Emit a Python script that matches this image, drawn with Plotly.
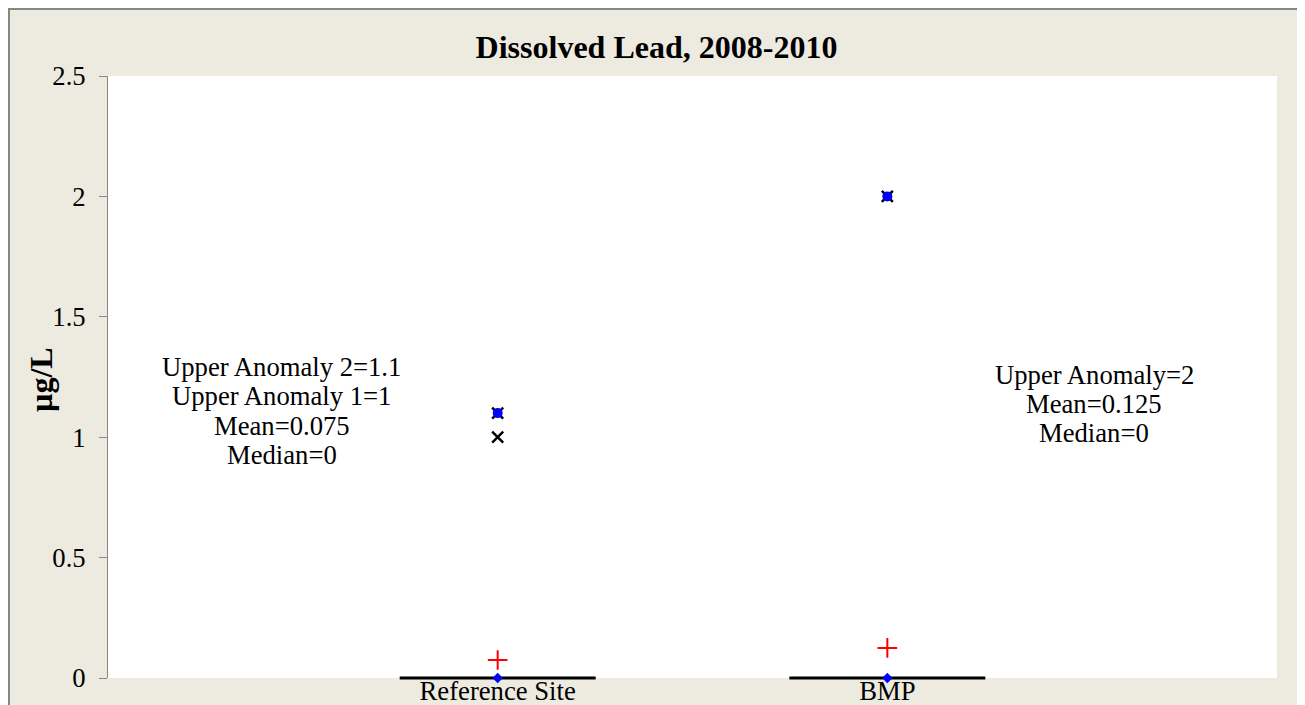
import plotly.graph_objects as go

# ---- data ----
categories = ["Reference Site", "BMP"]
medians = [0, 0]
means = [0.075, 0.125]
upper_anomaly_star = [1.1, 2]      # blue/black star markers
upper_anomaly_x = [1, None]        # black x markers
labels_ref = ["Upper Anomaly 2=1.1", "Upper Anomaly 1=1", "Mean=0.075", "Median=0"]
labels_bmp = ["Upper Anomaly=2", "Mean=0.125", "Median=0"]
y_ticks = [0, 0.5, 1, 1.5, 2, 2.5]
y_tick_text = ["0", "0.5", "1", "1.5", "2", "2.5"]

FONT = "Liberation Serif"
# page has an 8px body margin; figure sized so it fills the window
W, H = 1297, 697
ML, MR, MT, MB = 100, 28, 68, 27
BEIGE = "#EDEAE0"
GRAY = "#868686"
FS = 26.67

xs = list(range(len(categories)))
fig = go.Figure()

# median bars (horizontal line markers, not clipped at the axis)
fig.add_trace(go.Scatter(x=xs, y=medians, mode="markers", cliponaxis=False,
                         marker=dict(symbol="line-ew", size=140,
                                     line=dict(color="black", width=3)),
                         showlegend=False, hoverinfo="skip"))
# median markers
fig.add_trace(go.Scatter(x=xs, y=medians, mode="markers", cliponaxis=False,
                         marker=dict(symbol="diamond", size=8, color="blue"),
                         showlegend=False))
# mean markers
fig.add_trace(go.Scatter(x=xs, y=means, mode="markers", cliponaxis=False,
                         marker=dict(symbol="cross-thin", size=14,
                                     line=dict(color="red", width=2)),
                         showlegend=False))
# upper anomaly (x only)
fig.add_trace(go.Scatter(x=xs, y=upper_anomaly_x, mode="markers",
                         marker=dict(symbol="x-thin", size=11,
                                     line=dict(color="black", width=2.5)),
                         showlegend=False))
# upper anomaly (star: black x + blue dot)
fig.add_trace(go.Scatter(x=xs, y=upper_anomaly_star, mode="markers",
                         marker=dict(symbol="x-thin", size=11,
                                     line=dict(color="black", width=2.5)),
                         showlegend=False))
fig.add_trace(go.Scatter(x=xs, y=upper_anomaly_star, mode="markers",
                         marker=dict(symbol="circle", size=10, color="blue"),
                         showlegend=False))

pw = W - ML - MR
ph = H - MT - MB
def px_x(p):
    return (p - ML) / pw
def px_y(p):
    return (H - MB - p) / ph

annotations = []
LS = 29.3
for xpos, ypos, lines in [(-0.554, 1.109, labels_ref), (1.531, 1.138, labels_bmp)]:
    n = len(lines)
    for k, t in enumerate(lines):
        annotations.append(dict(x=xpos, y=ypos, xref="x", yref="y", text=t,
                                showarrow=False, xanchor="center", yanchor="middle",
                                yshift=-(k - (n - 1) / 2) * LS,
                                font=dict(family=FONT, size=FS, color="black")))
# y-axis title
annotations.append(dict(x=px_x(33), y=px_y(372), xref="paper", yref="paper",
                        text="<b>µg/L</b>", textangle=-90, showarrow=False,
                        xanchor="center", yanchor="middle",
                        font=dict(family=FONT, size=32, color="black")))

fig.update_layout(
    width=W, height=H,
    margin=dict(l=ML, r=MR, t=MT, b=MB, pad=0, autoexpand=False),
    paper_bgcolor=BEIGE,
    plot_bgcolor="white",
    font=dict(family=FONT, color="black"),
    title=dict(text="<b>Dissolved Lead, 2008-2010</b>", x=0.5, xanchor="center",
               y=1 - 39 / H, yanchor="middle", yref="container",
               font=dict(family=FONT, size=32, color="black")),
    xaxis=dict(range=[-1, 2], tickvals=xs, ticktext=categories, showgrid=False,
               zeroline=False, showline=False, ticks="", ticklen=0, automargin=False,
               ticklabelstandoff=-6,
               tickfont=dict(family=FONT, size=FS, color="black")),
    yaxis=dict(range=[0, 2.5], tickvals=y_ticks, ticktext=y_tick_text,
               showgrid=False, zeroline=False, showline=True, linecolor=GRAY,
               linewidth=1, ticks="outside", ticklen=8, tickcolor=GRAY,
               automargin=False, ticklabelstandoff=8,
               tickfont=dict(family=FONT, size=FS, color="black")),
    annotations=annotations,
    shapes=[dict(type="rect", xref="paper", yref="paper", layer="above",
                 x0=px_x(1), x1=px_x(W - 2), y0=px_y(H + 20), y1=px_y(1),
                 fillcolor="rgba(0,0,0,0)", line=dict(color=GRAY, width=2))],
)

fig.write_html("out.html", post_script="document.body.style.overflow='hidden';")
